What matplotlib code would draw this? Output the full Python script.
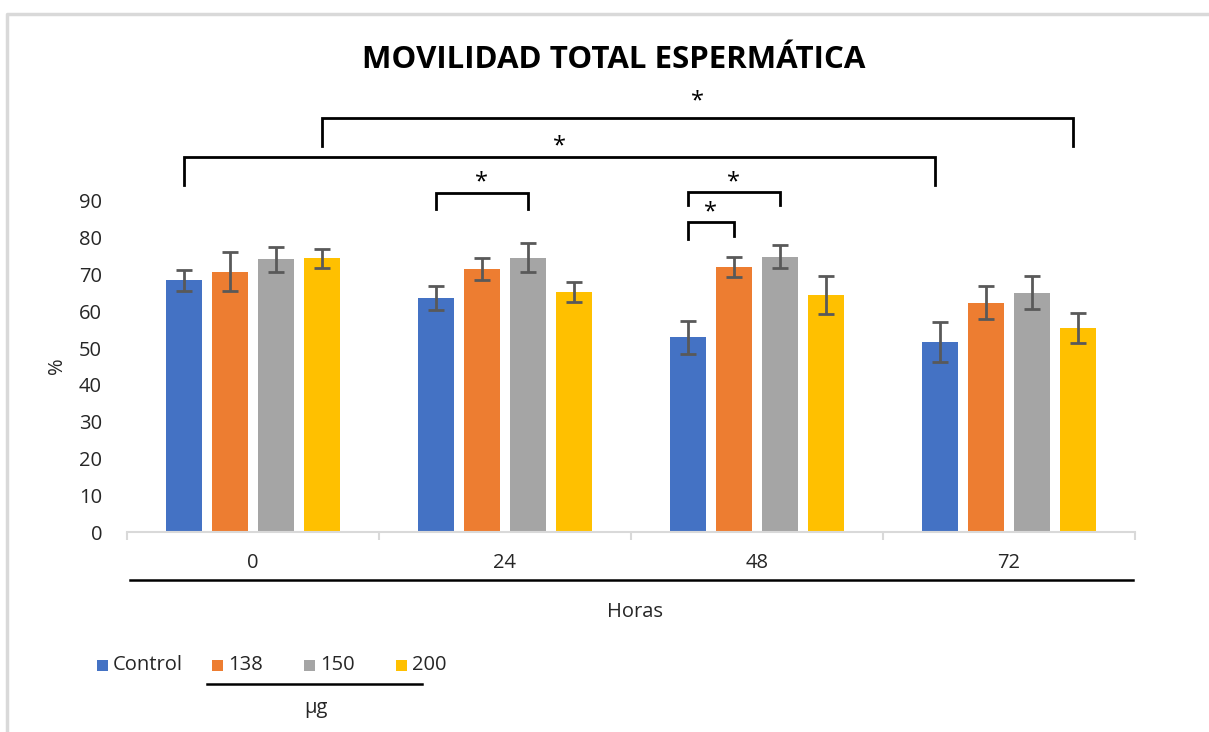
import matplotlib
matplotlib.use("Agg")
import matplotlib.pyplot as plt
from matplotlib.lines import Line2D
from matplotlib.patches import Rectangle
import numpy as np

plt.rcParams['font.family'] = ['Open Sans', 'DejaVu Sans']

# Data
hours = ["0", "24", "48", "72"]
series_names = ["Control", "138", "150", "200"]
control = [68.4, 63.6, 53.0, 51.6]
dose_138 = [70.8, 71.5, 72.1, 62.4]
dose_150 = [74.1, 74.6, 74.9, 65.1]
dose_200 = [74.4, 65.3, 64.5, 55.4]
err_control = [2.9, 3.3, 4.5, 5.5]
err_138 = [5.2, 3.1, 2.8, 4.6]
err_150 = [3.3, 4.0, 3.1, 4.5]
err_200 = [2.6, 2.7, 5.2, 4.1]
y_ticks = [0, 10, 20, 30, 40, 50, 60, 70, 80, 90]

values = [control, dose_138, dose_150, dose_200]
errors = [err_control, err_138, err_150, err_200]
colors = ["#4472C4", "#ED7D31", "#A5A5A5", "#FFC000"]

FS = 14.5
TXT = "#262626"

W, H = 1209, 732
fig = plt.figure(figsize=(W / 100, H / 100), dpi=100)
ax = fig.add_axes([127 / W, 1 - 532 / H, (1135 - 127) / W, (532 - 201) / H])

n = len(series_names)
step = 0.183
width = 0.143
x = np.arange(len(hours))
offsets = [(i - (n - 1) / 2) * step for i in range(n)]

for i in range(n):
    ax.bar(x + offsets[i], values[i], width=width, color=colors[i],
           label=series_names[i], zorder=2)
    ax.errorbar(x + offsets[i], values[i], yerr=errors[i], fmt="none",
                ecolor="#595959", elinewidth=2, capsize=6, capthick=2, zorder=3)

ax.set_xlim(-0.5, len(hours) - 0.5)
ax.set_ylim(0, 90)
ax.set_yticks(y_ticks)
ax.set_yticklabels([str(t) for t in y_ticks], fontsize=FS, color=TXT)
ax.tick_params(axis="y", length=0, pad=18)
for s in ["top", "right", "left"]:
    ax.spines[s].set_visible(False)
ax.spines["bottom"].set_color("#D9D9D9")
ax.spines["bottom"].set_linewidth(1.5)

# category labels and divider ticks
ax.set_xticks(np.arange(-0.5, len(hours), 1.0))
ax.set_xticklabels([])
ax.tick_params(axis="x", length=6, width=1.5, color="#D9D9D9", direction="out")
for xi, lab in zip(x, hours):
    ax.text(xi, -8.5, lab, ha="center", va="center", fontsize=FS, color=TXT)

fig.text(57 / W, 1 - 366 / H, "%", ha="center", va="center", rotation=90,
         fontsize=FS, color=TXT)


def bracket(x0, x1, y_top, y0_end, y1_end, star_y):
    ax.plot([x0, x0, x1, x1], [y0_end, y_top, y_top, y1_end], color="black",
            lw=2, clip_on=False, zorder=4, solid_joinstyle="miter")
    ax.text((x0 + x1) / 2, star_y, "*", ha="center", va="center",
            fontsize=17, color="black", clip_on=False)


pos = {(g, s): x[g] + offsets[s] for g in range(len(hours)) for s in range(n)}

# significance brackets
bracket(pos[(1, 0)], pos[(1, 2)], 92.2, 87.8, 87.8, 95.0)
bracket(pos[(2, 0)], pos[(2, 2)], 92.5, 89.0, 89.0, 95.0)
bracket(pos[(2, 0)], pos[(2, 1)], 84.4, 79.6, 80.4, 86.8)
bracket(pos[(0, 0)], pos[(3, 0)] - 0.02, 102.0, 94.3, 94.3, 104.8)
bracket(pos[(0, 3)], pos[(3, 3)] - 0.02, 112.6, 105.0, 105.0, 117.2)

# title
fig.text(614 / W, 1 - 60 / H, "MOVILIDAD TOTAL ESPERMÁTICA", ha="center",
         va="center", fontsize=22.5, fontweight="bold", color="black")

# axis group underline and label
fig.add_artist(Line2D([130 / W, 1133 / W], [1 - 580 / H, 1 - 580 / H],
                      color="black", lw=1.8))
fig.text(635 / W, 1 - 612 / H, "Horas", ha="center", va="center",
         fontsize=FS, color=TXT)

# legend
leg_y = 1 - 665 / H
sq = 11
entries = [(97, "Control"), (212, "138"), (304, "150"), (396, "200")]
for (lx, name), c in zip(entries, colors):
    fig.add_artist(Rectangle((lx / W, 1 - (665 + sq / 2) / H), sq / W, sq / H,
                             facecolor=c, edgecolor="none"))
    fig.text((lx + sq + 5) / W, leg_y, name, ha="left", va="center",
             fontsize=FS, color=TXT)
fig.add_artist(Line2D([207 / W, 422 / W], [1 - 684 / H, 1 - 684 / H],
                      color="black", lw=1.8))
fig.text(316 / W, 1 - 708 / H, "µg", ha="center", va="center",
         fontsize=FS, color=TXT)

# outer frame
fig.add_artist(Line2D([7 / W, 7 / W, 1.0], [0.0, 1 - 14 / H, 1 - 14 / H],
                      color="#D9D9D9", lw=2.5))

fig.savefig("out.png", dpi=100, facecolor="white")
